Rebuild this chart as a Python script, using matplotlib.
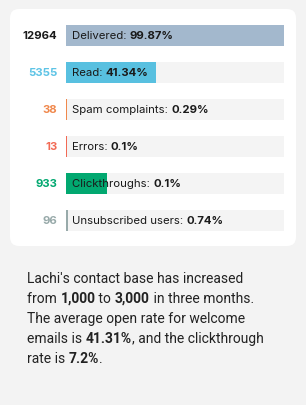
import matplotlib
matplotlib.use("Agg")
import matplotlib.pyplot as plt
from matplotlib.patches import FancyBboxPatch

# --- data ---
names = ["Delivered", "Read", "Spam complaints", "Errors", "Clickthroughs", "Unsubscribed users"]
counts = [12964, 5355, 38, 13, 933, 96]
pct_labels = ["99.87%", "41.34%", "0.29%", "0.1%", "0.1%", "0.74%"]
fill = [99.87, 41.34, 0.29, 0.1, 19.0, 0.74]   # bar length in % of track
bar_colors = ["#a3b8cd", "#58c0e0", "#f0884c", "#f26a55", "#02a870", "#98aaaa"]
count_colors = ["#1a1a1a", "#5ec4e6", "#f0884c", "#f26a55", "#02a870", "#98aaaa"]

summary = [
    [("Lachi's contact base has increased", False)],
    [("from ", False), ("1,000", True), (" to ", False), ("3,000", True), (" in three months.", False)],
    [("The average open rate for welcome", False)],
    [("emails is ", False), ("41.31%", True), (", and the clickthrough", False)],
    [("rate is ", False), ("7.2%", True), (".", False)],
]

W, H = 306, 406
fig = plt.figure(figsize=(W / 100, H / 100), dpi=100)
fig.patch.set_facecolor("#f3f3f3")

# background axes in pixel units (y down) for the card and the summary text
bg = fig.add_axes([0, 0, 1, 1], zorder=0)
bg.set_xlim(0, W)
bg.set_ylim(H, 0)
bg.axis("off")
bg.add_patch(FancyBboxPatch((10, 10), 286, 237, boxstyle="round,pad=0,rounding_size=9",
                            facecolor="white", edgecolor="none"))

# bar axes: track spans x=66..284 px, rows every 37 px starting at y=36
top_px, bot_px = 36.3 - 18.5, 221.3 + 18.5
ax = fig.add_axes([66 / W, 1 - bot_px / H, 218 / W, (bot_px - top_px) / H], zorder=1)
ax.set_xlim(0, 100)
ax.set_ylim(len(names) - 0.5, -0.5)
ax.axis("off")

rows = list(range(len(names)))
h = 0.555
ax.barh(rows, [100] * len(rows), height=h, color="#f4f4f4")
ax.barh(rows, [max(v, 0.55) for v in fill], height=h, color=bar_colors)

font = "Inter"
fs = 8.2
for i in rows:
    ax.text(-4.0, i, str(counts[i]), ha="right", va="center", fontsize=fs,
            fontweight="bold", color=count_colors[i], family=font)
    t = ax.text(2.75, i, names[i] + ": ", ha="left", va="center", fontsize=fs,
                color="#1a1a1a", family=font)
    ax.annotate(pct_labels[i], xy=(1, 0), xycoords=t, ha="left", va="bottom",
                fontsize=fs, fontweight="bold", color="#1a1a1a", family=font)

# summary text below the card
body = "Roboto"
for j, line in enumerate(summary):
    y = 282.7 + 20 * j
    prev = None
    for seg, bold in line:
        kw = dict(fontsize=10, color="#222222", family=body,
                  fontweight="bold" if bold else "normal", ha="left")
        if prev is None:
            prev = bg.text(27, y, seg, va="baseline", **kw)
        else:
            prev = bg.annotate(seg, xy=(1, 0), xycoords=prev, va="bottom",
                               annotation_clip=False, **kw)

fig.savefig("out.png", dpi=100, facecolor=fig.get_facecolor())
